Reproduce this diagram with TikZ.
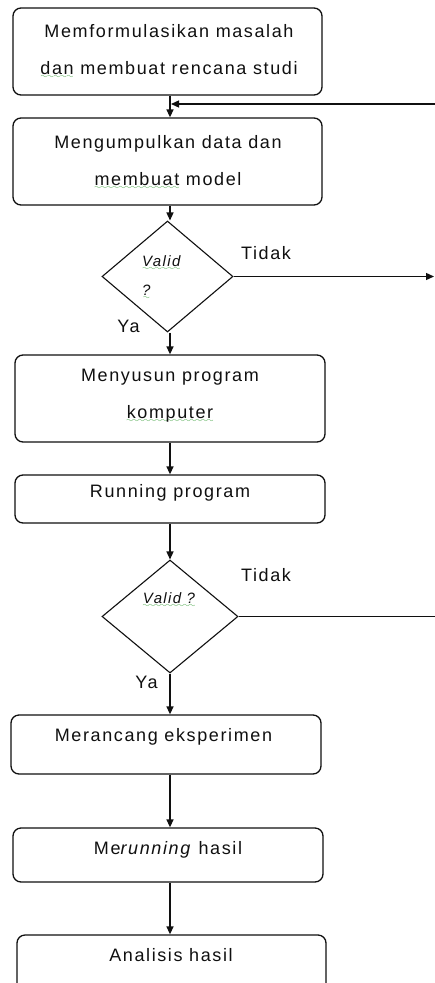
\documentclass[tikz,border=0pt]{standalone}
\usepackage{fontspec}
\setmainfont{Liberation Sans}[LetterSpace=9]
\usetikzlibrary{arrows.meta,shapes.geometric}
\definecolor{ink}{HTML}{101010}
\definecolor{spellgreen}{HTML}{2E9A2E}
% green wavy underline used by a spelling checker
\font\wavefont=lasy8
\newcommand\spellwave[1]{\leavevmode\setbox0\hbox{#1}%
  \rlap{\lower3.8pt\hbox to \wd0{\color{spellgreen}\xleaders\hbox{\wavefont\char58}\hfil}}\box0\relax}
\begin{document}
\begin{tikzpicture}[x=1pt,y=-1pt,
  txt/.style={font=\fontsize{18}{37}\selectfont, text=ink, align=center, inner sep=0pt},
  small/.style={font=\fontsize{15}{29}\selectfont\itshape, text=ink, align=left, inner sep=0pt},
  box/.style={draw=ink, line width=1.3pt, rounded corners=8pt, inner sep=0pt, minimum width=#1},
  box/.default=309pt,
  decision/.style={draw=ink, line width=1.1pt, diamond, inner sep=0pt},
  flow/.style={draw=ink, line width=1.3pt, -{Triangle[length=8pt,width=7pt]}},
  plain/.style={draw=ink, line width=1.3pt},
]
\clip (0,0) rectangle (435,983);
\fill[white] (0,0) rectangle (435,983);
\coordinate (axis) at (170,0);

% process boxes and decisions
\node[box, minimum height=87pt] (b1) at (167.5,51.5) {};
\node[box, minimum height=87pt] (b2) at (167.5,161.5) {};
\node[decision, minimum width=131pt, minimum height=111pt] (d1) at (167.5,276.5) {};
\node[box=310pt, minimum height=87pt] (b3) at (170,398.5) {};
\node[box=310pt, minimum height=48pt] (b4) at (170,499) {};
\node[decision, minimum width=136pt, minimum height=113pt] (d2) at (170,616.5) {};
\node[box=310pt, minimum height=59pt] (b5) at (166,744.5) {};
\node[box=310pt, minimum height=54pt] (b6) at (168,855) {};
\node[box=309pt, minimum height=62pt] (b7) at (171.5,966) {};

% texts
\node[txt] (t1) at (169,51.5) {Memformulasikan masalah\\\spellwave{dan} membuat rencana studi};
\node[txt] (t2) at (168,162.5) {Mengumpulkan data dan\\\spellwave{membuat} model};
\node[small, anchor=west] (v1) at (142,277.5) {\spellwave{Valid}\\\spellwave{?}};
\node[txt] (t3) at (170,395.5) {Menyusun program\\\spellwave{komputer}};
\node[txt] (t4) at (170,493) {Running program};
\node[small] (v2) at (169,600) {\spellwave{Valid ?}};
\node[txt] (t5) at (163.5,737) {Merancang eksperimen};
\node[txt] (t6) at (168,850) {Me\textit{running} hasil};
\node[txt] (t7) at (171,955) {Analisis hasil};

% branch labels
\node[txt] (n1) at (266,253) {Tidak};
\node[txt] (y1) at (128.5,326) {Ya};
\node[txt] (n2) at (266,575) {Tidak};
\node[txt] (y2) at (146.5,682) {Ya};

% connectors
\draw[flow] (b1.south -| axis) -- (b2.north -| axis);
\draw[flow] (b2.south -| axis) -- (d1.north -| axis);
\draw[flow] (d1.south -| axis) -- (b3.north -| axis);
\draw[flow] (b3.south -| axis) -- (b4.north -| axis);
\draw[flow] (b4.south -| axis) -- (d2.north -| axis);
\draw[flow] (d2.south -| axis) -- (b5.north -| axis);
\draw[flow] (b5.south -| axis) -- (b6.north -| axis);
\draw[flow] (b6.south -| axis) -- (b7.north -| axis);

% loop back into the data collection step
\coordinate (back) at (436,104);
\coordinate (join) at (171,104);
\draw[flow] (back) -- (join);

% "Tidak" exits to the right
\coordinate (out1) at (434,0);
\coordinate (out2) at (436,0);
\draw[flow] (d1.east) -- (d1.east -| out1);
\draw[plain] (d2.east) -- (d2.east -| out2);
\end{tikzpicture}
\end{document}
